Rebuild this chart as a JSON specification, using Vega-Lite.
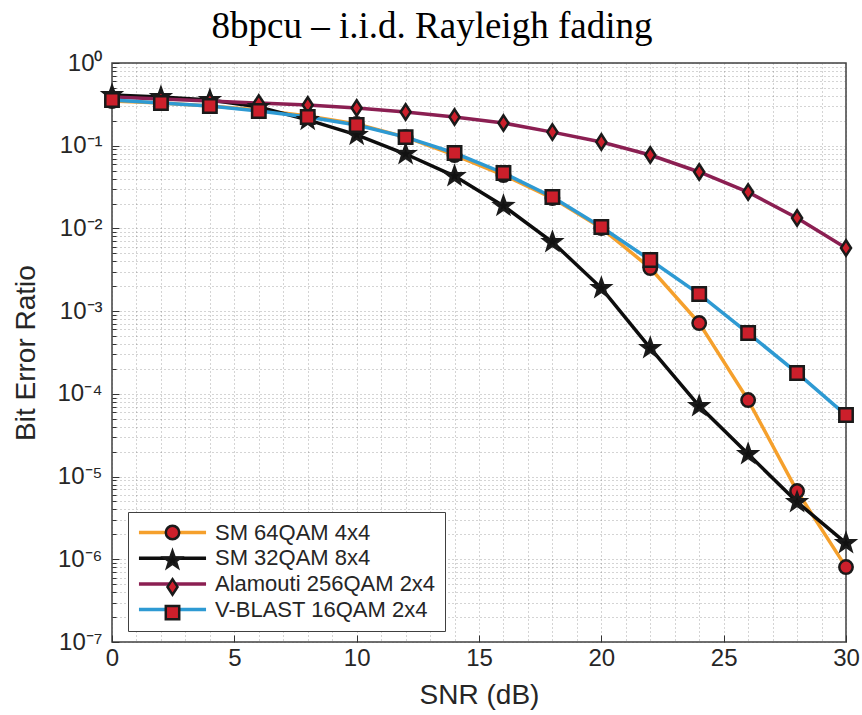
{
  "$schema": "https://vega.github.io/schema/vega-lite/v6.json",
  "width": 734,
  "height": 579,
  "autosize": {"type": "none"},
  "padding": {"left": 112, "top": 63, "right": 16, "bottom": 73},
  "background": "white",
  "title": {
    "text": "8bpcu – i.i.d. Rayleigh fading",
    "font": "Liberation Serif",
    "fontSize": 37,
    "fontWeight": "normal",
    "color": "#000000",
    "anchor": "middle",
    "frame": "group",
    "dx": -47,
    "offset": 5
  },
  "config": {
    "view": {"stroke": "#404040", "strokeWidth": 1.5},
    "axis": {
      "domain": false,
      "labelFont": "Liberation Sans",
      "labelFontSize": 24,
      "labelColor": "#262626",
      "labelOverlap": false,
      "labelFlush": false,
      "labelBound": false,
      "tickColor": "#333333",
      "tickWidth": 1,
      "grid": true,
      "gridDash": [1, 3],
      "gridColor": "#555555",
      "gridOpacity": 0.5,
      "titleFont": "Liberation Sans",
      "titleFontSize": 28,
      "titleFontWeight": "normal",
      "titleColor": "#262626"
    }
  },
  "data": {
    "values": [
      {"series": "SM 64QAM 4x4", "snr": 0, "ber": 0.347},
      {"series": "SM 64QAM 4x4", "snr": 2, "ber": 0.328},
      {"series": "SM 64QAM 4x4", "snr": 4, "ber": 0.302},
      {"series": "SM 64QAM 4x4", "snr": 6, "ber": 0.27},
      {"series": "SM 64QAM 4x4", "snr": 8, "ber": 0.229},
      {"series": "SM 64QAM 4x4", "snr": 10, "ber": 0.183},
      {"series": "SM 64QAM 4x4", "snr": 12, "ber": 0.127},
      {"series": "SM 64QAM 4x4", "snr": 14, "ber": 0.0772},
      {"series": "SM 64QAM 4x4", "snr": 16, "ber": 0.0442},
      {"series": "SM 64QAM 4x4", "snr": 18, "ber": 0.0233},
      {"series": "SM 64QAM 4x4", "snr": 20, "ber": 0.0101},
      {"series": "SM 64QAM 4x4", "snr": 22, "ber": 0.00332},
      {"series": "SM 64QAM 4x4", "snr": 24, "ber": 0.000718},
      {"series": "SM 64QAM 4x4", "snr": 26, "ber": 0.0000841},
      {"series": "SM 64QAM 4x4", "snr": 28, "ber": 0.00000668},
      {"series": "SM 64QAM 4x4", "snr": 30, "ber": 0.000000805},
      {"series": "SM 32QAM 8x4", "snr": 0, "ber": 0.41},
      {"series": "SM 32QAM 8x4", "snr": 2, "ber": 0.388},
      {"series": "SM 32QAM 8x4", "snr": 4, "ber": 0.357},
      {"series": "SM 32QAM 8x4", "snr": 6, "ber": 0.294},
      {"series": "SM 32QAM 8x4", "snr": 8, "ber": 0.205},
      {"series": "SM 32QAM 8x4", "snr": 10, "ber": 0.135},
      {"series": "SM 32QAM 8x4", "snr": 12, "ber": 0.0794},
      {"series": "SM 32QAM 8x4", "snr": 14, "ber": 0.043},
      {"series": "SM 32QAM 8x4", "snr": 16, "ber": 0.0187},
      {"series": "SM 32QAM 8x4", "snr": 18, "ber": 0.00685},
      {"series": "SM 32QAM 8x4", "snr": 20, "ber": 0.0019},
      {"series": "SM 32QAM 8x4", "snr": 22, "ber": 0.000358},
      {"series": "SM 32QAM 8x4", "snr": 24, "ber": 0.0000712},
      {"series": "SM 32QAM 8x4", "snr": 26, "ber": 0.0000187},
      {"series": "SM 32QAM 8x4", "snr": 28, "ber": 0.00000492},
      {"series": "SM 32QAM 8x4", "snr": 30, "ber": 0.00000157},
      {"series": "Alamouti 256QAM 2x4", "snr": 0, "ber": 0.388},
      {"series": "Alamouti 256QAM 2x4", "snr": 2, "ber": 0.367},
      {"series": "Alamouti 256QAM 2x4", "snr": 4, "ber": 0.347},
      {"series": "Alamouti 256QAM 2x4", "snr": 6, "ber": 0.328},
      {"series": "Alamouti 256QAM 2x4", "snr": 8, "ber": 0.311},
      {"series": "Alamouti 256QAM 2x4", "snr": 10, "ber": 0.286},
      {"series": "Alamouti 256QAM 2x4", "snr": 12, "ber": 0.256},
      {"series": "Alamouti 256QAM 2x4", "snr": 14, "ber": 0.222},
      {"series": "Alamouti 256QAM 2x4", "snr": 16, "ber": 0.188},
      {"series": "Alamouti 256QAM 2x4", "snr": 18, "ber": 0.146},
      {"series": "Alamouti 256QAM 2x4", "snr": 20, "ber": 0.111},
      {"series": "Alamouti 256QAM 2x4", "snr": 22, "ber": 0.0772},
      {"series": "Alamouti 256QAM 2x4", "snr": 24, "ber": 0.0481},
      {"series": "Alamouti 256QAM 2x4", "snr": 26, "ber": 0.0275},
      {"series": "Alamouti 256QAM 2x4", "snr": 28, "ber": 0.0134},
      {"series": "Alamouti 256QAM 2x4", "snr": 30, "ber": 0.0058},
      {"series": "V-BLAST 16QAM 2x4", "snr": 0, "ber": 0.357},
      {"series": "V-BLAST 16QAM 2x4", "snr": 2, "ber": 0.328},
      {"series": "V-BLAST 16QAM 2x4", "snr": 4, "ber": 0.302},
      {"series": "V-BLAST 16QAM 2x4", "snr": 6, "ber": 0.263},
      {"series": "V-BLAST 16QAM 2x4", "snr": 8, "ber": 0.222},
      {"series": "V-BLAST 16QAM 2x4", "snr": 10, "ber": 0.178},
      {"series": "V-BLAST 16QAM 2x4", "snr": 12, "ber": 0.127},
      {"series": "V-BLAST 16QAM 2x4", "snr": 14, "ber": 0.0816},
      {"series": "V-BLAST 16QAM 2x4", "snr": 16, "ber": 0.0468},
      {"series": "V-BLAST 16QAM 2x4", "snr": 18, "ber": 0.024},
      {"series": "V-BLAST 16QAM 2x4", "snr": 20, "ber": 0.0104},
      {"series": "V-BLAST 16QAM 2x4", "snr": 22, "ber": 0.00415},
      {"series": "V-BLAST 16QAM 2x4", "snr": 24, "ber": 0.00161},
      {"series": "V-BLAST 16QAM 2x4", "snr": 26, "ber": 0.000543},
      {"series": "V-BLAST 16QAM 2x4", "snr": 28, "ber": 0.000179},
      {"series": "V-BLAST 16QAM 2x4", "snr": 30, "ber": 0.0000554}
    ]
  },
  "encoding": {
    "x": {
      "field": "snr",
      "type": "quantitative",
      "scale": {"domain": [0, 30], "nice": false, "zero": false},
      "axis": {
        "title": "SNR (dB)",
        "format": "d",
        "values": [0,0.5,1,1.5,2,2.5,3,3.5,4,4.5,5,5.5,6,6.5,7,7.5,8,8.5,9,9.5,10,10.5,11,11.5,12,12.5,13,13.5,14,14.5,15,15.5,16,16.5,17,17.5,18,18.5,19,19.5,20,20.5,21,21.5,22,22.5,23,23.5,24,24.5,25,25.5,26,26.5,27,27.5,28,28.5,29,29.5,30],
        "labelExpr": "datum.value % 5 == 0 ? datum.label : ''",
        "tickSize": {"condition": {"test": "datum.value % 5 == 0", "value": -7}, "value": 0},
        "labelPadding": 11,
        "titlePadding": 4
      }
    },
    "y": {
      "field": "ber",
      "type": "quantitative",
      "scale": {"type": "log", "domain": [1e-7, 1], "nice": false, "zero": false},
      "axis": {
        "title": "Bit Error Ratio",
        "values": [1e-7,2e-7,3e-7,4e-7,5e-7,6e-7,7e-7,8e-7,9e-7,1e-6,2e-6,3e-6,4e-6,5e-6,6e-6,7e-6,8e-6,9e-6,1e-5,2e-5,3e-5,4e-5,5e-5,6e-5,7e-5,8e-5,9e-5,1e-4,2e-4,3e-4,4e-4,5e-4,6e-4,7e-4,8e-4,9e-4,1e-3,2e-3,3e-3,4e-3,5e-3,6e-3,7e-3,8e-3,9e-3,1e-2,2e-2,3e-2,4e-2,5e-2,6e-2,7e-2,8e-2,9e-2,0.1,0.2,0.3,0.4,0.5,0.6,0.7,0.8,0.9,1],
        "labelExpr": "abs(log(datum.value)/LN10 - round(log(datum.value)/LN10)) < 0.001 ? ['10⁰','10⁻¹','10⁻²','10⁻³','10⁻⁴','10⁻⁵','10⁻⁶','10⁻⁷'][-round(log(datum.value)/LN10)] : ''",
        "tickSize": {"condition": {"test": "abs(log(datum.value)/LN10 - round(log(datum.value)/LN10)) < 0.001", "value": -7}, "value": -4},
        "labelPadding": 17,
        "titlePadding": 16
      }
    }
  },
  "layer": [
    {
      "mark": {"type": "line", "strokeWidth": 3.5},
      "encoding": {
        "color": {
          "field": "series",
          "type": "nominal",
          "sort": ["SM 64QAM 4x4", "SM 32QAM 8x4", "Alamouti 256QAM 2x4", "V-BLAST 16QAM 2x4"],
          "scale": {"range": ["#F5A02C", "#0d0d0d", "#8B1F52", "#2E9AD3"]},
          "legend": {
            "title": null,
            "orient": "none",
            "legendX": 16,
            "legendY": 449,
            "padding": 9.5,
            "rowPadding": 3.7,
            "symbolType": "M-5,0H5",
            "symbolSize": 180,
            "symbolStrokeWidth": 3.5,
            "symbolOffset": 24,
            "labelOffset": 31.5,
            "labelLimit": 400,
            "labelFont": "Liberation Sans",
            "labelFontSize": 22,
            "labelColor": "#262626",
            "fillColor": "white",
            "strokeColor": "#404040"
          }
        }
      }
    },
    {
      "mark": {"type": "point", "filled": true, "size": 180, "stroke": "#1a1a1a", "strokeWidth": 2.5, "opacity": 1},
      "encoding": {
        "shape": {
          "field": "series",
          "type": "nominal",
          "scale": {
            "domain": ["SM 64QAM 4x4", "SM 32QAM 8x4", "Alamouti 256QAM 2x4", "V-BLAST 16QAM 2x4"],
            "range": ["circle", "M0,-1.35L0.317,-0.437L1.284,-0.417L0.513,0.167L0.794,1.092L0,0.54L-0.794,1.092L-0.513,0.167L-1.284,-0.417L-0.317,-0.437Z", "M0,-1.15L0.75,0L0,1.15L-0.75,0Z", "square"]
          },
          "legend": {
            "title": null,
            "orient": "none",
            "legendX": 16,
            "legendY": 449,
            "padding": 9.5,
            "rowPadding": 0.7,
            "symbolSize": 180,
            "symbolStrokeWidth": 2.5,
            "symbolOffset": 24,
            "labelOffset": 31.5,
            "labelExpr": "''",
            "labelFont": "Liberation Sans",
            "labelFontSize": 22,
            "labelOpacity": 0,
            "fillColor": "transparent",
            "strokeColor": "transparent"
          }
        },
        "fill": {
          "field": "series",
          "type": "nominal",
          "scale": {
            "domain": ["SM 64QAM 4x4", "SM 32QAM 8x4", "Alamouti 256QAM 2x4", "V-BLAST 16QAM 2x4"],
            "range": ["#CC1F2B", "#111111", "#CC1F2B", "#CC1F2B"]
          },
          "legend": null
        }
      }
    }
  ]
}
